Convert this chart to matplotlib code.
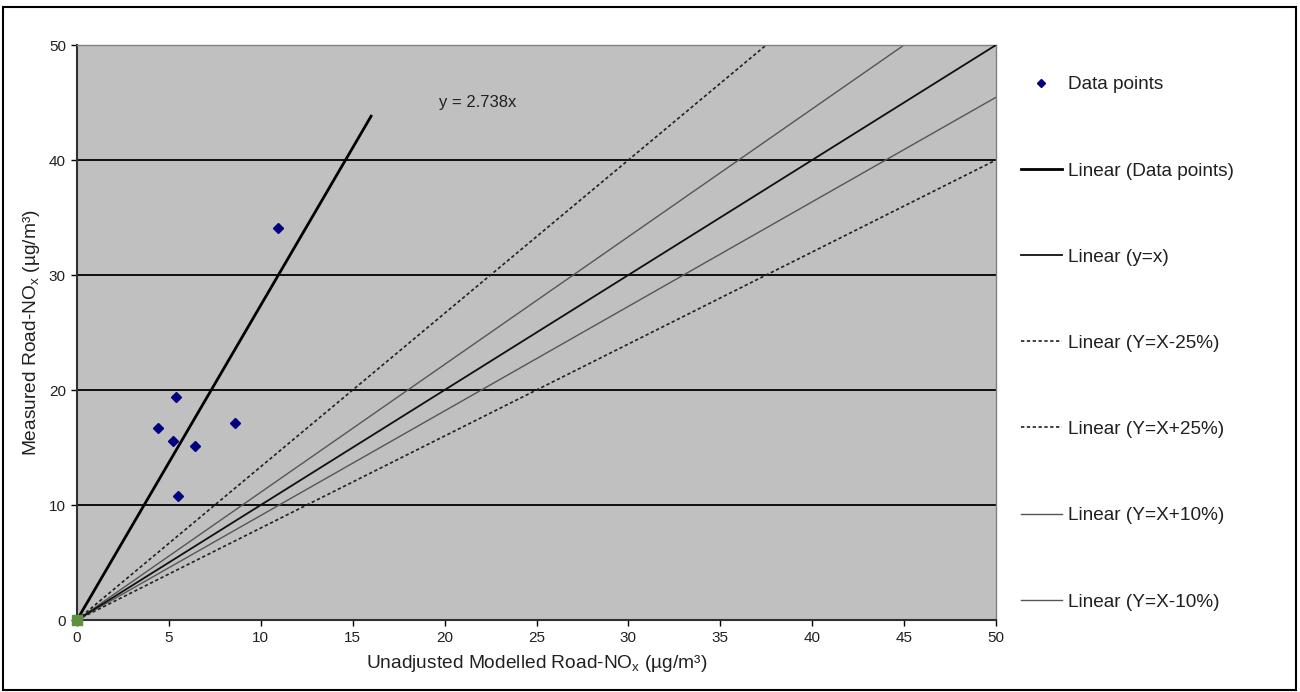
import numpy as np
import matplotlib
matplotlib.use("Agg")
import matplotlib.pyplot as plt
from matplotlib.patches import Rectangle

plt.rcParams['font.family'] = ['Liberation Sans', 'DejaVu Sans']

# ---- data ----
modelled = [4.42, 5.38, 5.20, 6.41, 8.59, 5.47, 10.94]
measured = [16.67, 19.39, 15.59, 15.16, 17.10, 10.78, 34.10]
origin_x = [0.0]
origin_y = [0.0]
fit_slope = 2.738
fit_x = [0.0, 16.0]
ref_x = [0.0, 50.0]
slope_yx = 1.0
slope_m25 = 1 / 1.25   # Y=X-25%
slope_p25 = 1 / 0.75   # Y=X+25%
slope_p10 = 1 / 0.9    # Y=X+10%
slope_m10 = 1 / 1.1    # Y=X-10%
xticks = [0, 5, 10, 15, 20, 25, 30, 35, 40, 45, 50]
yticks = [0, 10, 20, 30, 40, 50]
legend_labels = ["Data points", "Linear (Data points)", "Linear (y=x)",
                 "Linear (Y=X-25%)", "Linear (Y=X+25%)",
                 "Linear (Y=X+10%)", "Linear (Y=X-10%)"]

W, H = 1300, 692
fig = plt.figure(figsize=(W / 100, H / 100), dpi=100)
ax = fig.add_axes([77 / W, 1 - 620 / H, (996 - 77) / W, (620 - 45) / H])
ax.set_facecolor('#c0c0c0')

# horizontal gridlines
for gy in yticks[1:-1]:
    ax.axhline(gy, color='black', lw=1.3, zorder=1)

rx = np.array(ref_x)
h_m25, = ax.plot(rx, slope_m25 * rx, color='#202020', lw=1.2, ls=(0, (2, 1.5)), zorder=2)
h_p25, = ax.plot(rx, slope_p25 * rx, color='#202020', lw=1.2, ls=(0, (2, 1.5)), zorder=2)
h_p10, = ax.plot(rx, slope_p10 * rx, color='#555555', lw=1.0, zorder=2)
h_m10, = ax.plot(rx, slope_m10 * rx, color='#555555', lw=1.0, zorder=2)
h_yx, = ax.plot(rx, slope_yx * rx, color='#101010', lw=1.3, zorder=3)
fx = np.array(fit_x)
h_fit, = ax.plot(fx, fit_slope * fx, color='black', lw=2.0, zorder=4)
h_pts, = ax.plot(modelled, measured, ls='none', marker='D', color='#000080',
                 markersize=5.5, zorder=5)
ax.plot(origin_x, origin_y, ls='none', marker='s', color='#5f9040',
        markersize=7.5, zorder=6, clip_on=False)

ax.text(21.8, 45, "y = 2.738x", fontsize=12, ha='center', va='center', color='#202020')

ax.set_xlim(0, 50)
ax.set_ylim(0, 50)
ax.set_xticks(xticks)
ax.set_yticks(yticks)
ax.tick_params(axis='both', direction='out', length=4, width=1, color='black',
               labelsize=11, pad=4, colors='#202020')
for s in ['top', 'right']:
    ax.spines[s].set_color('#808080')
    ax.spines[s].set_linewidth(1.0)
for s in ['left', 'bottom']:
    ax.spines[s].set_color('#303030')
    ax.spines[s].set_linewidth(1.5)

ax.set_xlabel("Unadjusted Modelled Road-NO$_\\mathregular{x}$ (µg/m³)", fontsize=13.8, labelpad=6,
              color='#202020')
ax.set_ylabel("Measured Road-NO$_\\mathregular{x}$ (µg/m³)", fontsize=13.8, labelpad=5,
              color='#202020')

handles = [h_pts, h_fit, h_yx, h_m25, h_p25, h_p10, h_m10]
leg = fig.legend(handles, legend_labels, loc='upper left',
                 bbox_to_anchor=(1021 / W, 1 - 76 / H), frameon=False,
                 fontsize=13.7, handlelength=2.15, handletextpad=0.3,
                 labelspacing=3.62, borderpad=0, borderaxespad=0,
                 markerscale=0.75)
for t in leg.get_texts():
    t.set_color('#202020')

# figure border
fig.patches.append(Rectangle((3 / W, 2 / H), (1296 - 3) / W, (685 - 2) / H,
                             transform=fig.transFigure, fill=False,
                             edgecolor='black', lw=1.5))

fig.savefig("out.png", dpi=100)
